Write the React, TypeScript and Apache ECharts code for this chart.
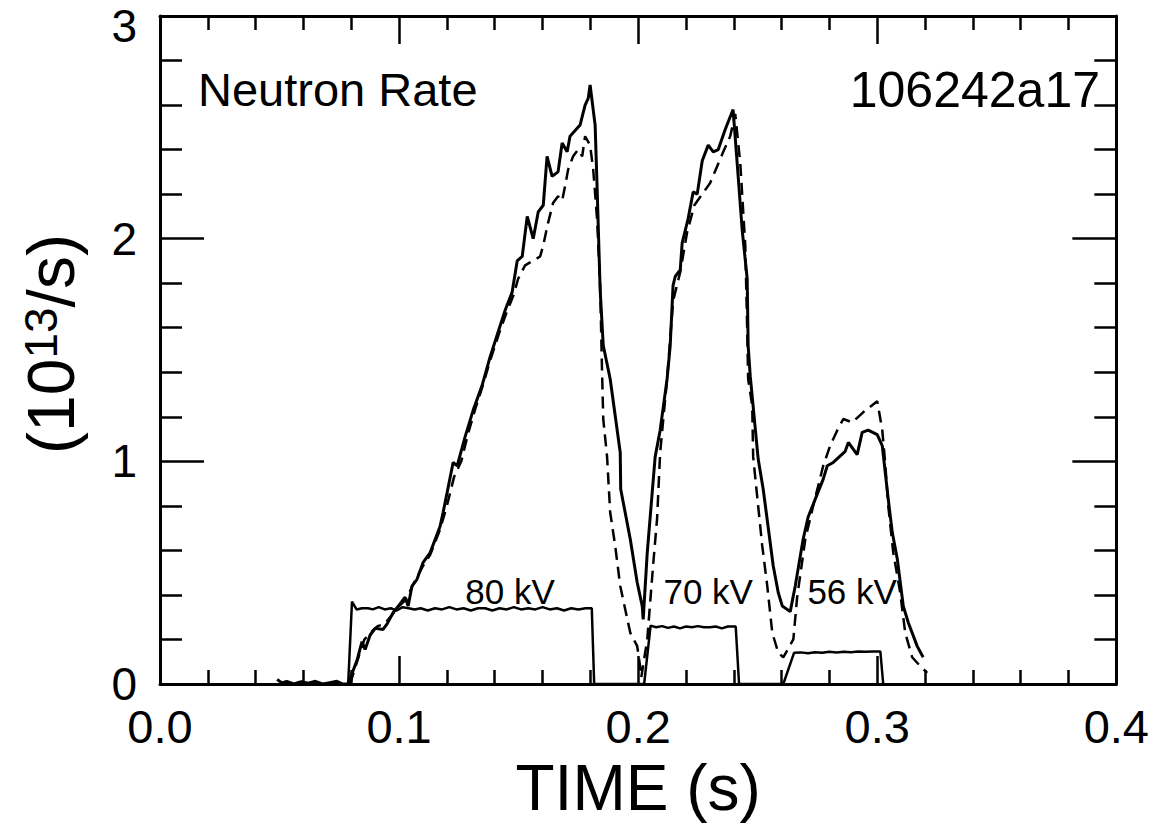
import React, { useEffect, useRef } from "react";
import * as echarts from "echarts";

const FONT = '"Liberation Sans", Arial, Helvetica, sans-serif';

const xTicks = [0, 0.1, 0.2, 0.3, 0.4];
const yTicks = [0, 1, 2, 3];

// measured neutron rate (solid), [time s, 1e13/s]
const measured: [number, number][] = [
  [0.049, 0.02], [0.051, 0.005], [0.053, 0.012], [0.056, 0], [0.059, 0.01], [0.062, 0.004],
  [0.065, 0.012], [0.068, 0], [0.071, 0.006], [0.074, 0.012], [0.0765, 0], [0.0787, 0],
  [0.0825, 0.11], [0.0845, 0.19], [0.0858, 0.155], [0.0879, 0.22], [0.09, 0.25], [0.0933, 0.245],
  [0.095, 0.27], [0.0975, 0.32], [0.1004, 0.36], [0.1025, 0.39], [0.1038, 0.35], [0.1054, 0.44],
  [0.1075, 0.47], [0.11, 0.545], [0.113, 0.59], [0.1172, 0.71], [0.1184, 0.77], [0.1201, 0.86],
  [0.1226, 0.995], [0.1243, 0.98], [0.1276, 1.11], [0.131, 1.23], [0.1347, 1.34], [0.1381, 1.47],
  [0.1423, 1.61], [0.1444, 1.68], [0.1473, 1.76], [0.1494, 1.9], [0.1515, 1.92], [0.1536, 2.1],
  [0.1561, 2.0], [0.1582, 2.12], [0.1603, 2.15], [0.1619, 2.37], [0.164, 2.28], [0.1665, 2.3],
  [0.1682, 2.43], [0.1703, 2.39], [0.1715, 2.46], [0.1757, 2.51], [0.1778, 2.6], [0.1791, 2.63],
  [0.1799, 2.69], [0.182, 2.51], [0.1828, 2.24], [0.1841, 1.77], [0.1854, 1.52], [0.1883, 1.37],
  [0.1925, 1.04], [0.1927, 0.875], [0.1967, 0.65], [0.1996, 0.456], [0.2017, 0.35], [0.2021, 0.29],
  [0.2038, 0.59], [0.2071, 1.02], [0.2092, 1.14], [0.2121, 1.37], [0.2134, 1.52], [0.2146, 1.79],
  [0.2155, 1.83], [0.2176, 1.86], [0.2184, 1.98], [0.2209, 2.09], [0.223, 2.21], [0.2247, 2.2],
  [0.2268, 2.35], [0.2293, 2.42], [0.2314, 2.39], [0.2335, 2.4], [0.2364, 2.49], [0.2397, 2.58],
  [0.2414, 2.34], [0.2435, 2.04], [0.2456, 1.82], [0.246, 1.52], [0.2469, 1.38], [0.2502, 1.01],
  [0.2523, 0.875], [0.2565, 0.53], [0.2586, 0.41], [0.2603, 0.35], [0.2636, 0.325], [0.2657, 0.44],
  [0.269, 0.65], [0.2711, 0.75], [0.2774, 0.92], [0.2791, 0.98], [0.2816, 0.995], [0.2866, 1.045],
  [0.2879, 1.085], [0.2916, 1.03], [0.2937, 1.13], [0.2962, 1.14], [0.3, 1.12], [0.3021, 1.07],
  [0.3046, 0.83], [0.3063, 0.68], [0.3084, 0.56], [0.3109, 0.35], [0.313, 0.275], [0.3167, 0.17],
  [0.3192, 0.12],
];

// simulated neutron rate (dashed)
const simulated: [number, number][] = [
  [0.0795, 0], [0.083, 0.12], [0.0855, 0.2], [0.088, 0.23], [0.091, 0.26], [0.094, 0.27],
  [0.097, 0.31], [0.1, 0.35], [0.103, 0.38], [0.106, 0.45], [0.11, 0.53], [0.113, 0.58],
  [0.117, 0.69], [0.12, 0.8], [0.123, 0.93], [0.126, 1.0], [0.129, 1.13], [0.132, 1.24],
  [0.135, 1.34], [0.138, 1.45], [0.142, 1.58], [0.145, 1.67], [0.148, 1.75], [0.1498, 1.82],
  [0.1527, 1.88], [0.159, 1.92], [0.1603, 1.97], [0.1623, 2.07], [0.1644, 2.16], [0.1665, 2.19],
  [0.1682, 2.17], [0.1695, 2.24], [0.1707, 2.31], [0.1728, 2.37], [0.1749, 2.4], [0.1766, 2.37],
  [0.1778, 2.46], [0.1799, 2.42], [0.1812, 2.31], [0.1828, 2.09], [0.1841, 1.79], [0.1849, 1.4],
  [0.1854, 1.19], [0.187, 1.02], [0.1883, 0.77], [0.1904, 0.62], [0.1925, 0.44], [0.1967, 0.23],
  [0.1996, 0.17], [0.2008, 0.08], [0.2013, 0.03], [0.2038, 0.2], [0.2063, 0.54], [0.2079, 0.74],
  [0.2092, 1.04], [0.2121, 1.37], [0.2146, 1.72], [0.2176, 1.85], [0.2205, 2.03], [0.2235, 2.15],
  [0.2301, 2.25], [0.2356, 2.39], [0.2385, 2.46], [0.2406, 2.56], [0.2427, 2.34], [0.2448, 1.97],
  [0.2456, 1.59], [0.246, 1.37], [0.2477, 1.25], [0.2481, 1.02], [0.2498, 0.84], [0.2519, 0.62],
  [0.254, 0.44], [0.2561, 0.23], [0.2586, 0.14], [0.2607, 0.12], [0.2649, 0.2], [0.2665, 0.39],
  [0.2699, 0.65], [0.2732, 0.8], [0.2774, 0.98], [0.2803, 1.07], [0.2833, 1.14], [0.2858, 1.19],
  [0.2895, 1.175], [0.2941, 1.22], [0.3, 1.27], [0.3021, 1.14], [0.3033, 0.995], [0.3046, 0.8],
  [0.3067, 0.59], [0.3096, 0.41], [0.3117, 0.23], [0.3146, 0.12], [0.318, 0.08], [0.3209, 0.05],
];

// beam power trace (solid, thin steps)
const beam: [number, number][] = [
  [0.0787, 0], [0.0803, 0.37], [0.0822, 0.335], [0.0845, 0.34], [0.087, 0.34], [0.089, 0.335],
  [0.0915, 0.345], [0.094, 0.335], [0.0965, 0.34], [0.099, 0.33], [0.1015, 0.345], [0.104, 0.34],
  [0.1065, 0.335], [0.109, 0.34], [0.112, 0.33], [0.115, 0.34], [0.118, 0.335], [0.121, 0.345],
  [0.124, 0.335], [0.127, 0.34], [0.13, 0.33], [0.133, 0.34], [0.136, 0.34], [0.139, 0.33],
  [0.142, 0.34], [0.145, 0.335], [0.148, 0.345], [0.151, 0.335], [0.154, 0.34], [0.157, 0.335],
  [0.16, 0.345], [0.163, 0.335], [0.166, 0.34], [0.169, 0.33], [0.172, 0.34], [0.175, 0.335],
  [0.178, 0.34], [0.1806, 0.34], [0.1816, 0],
  [0.2025, 0], [0.2052, 0.262], [0.2075, 0.255], [0.21, 0.26], [0.2125, 0.252], [0.215, 0.258],
  [0.2175, 0.25], [0.22, 0.258], [0.2225, 0.255], [0.225, 0.26], [0.2275, 0.255], [0.23, 0.255],
  [0.2325, 0.258], [0.235, 0.25], [0.2375, 0.258], [0.2395, 0.258], [0.2408, 0.258], [0.2422, 0],
  [0.2607, 0], [0.2652, 0.14], [0.268, 0.142], [0.271, 0.138], [0.274, 0.143], [0.277, 0.14],
  [0.28, 0.145], [0.283, 0.142], [0.286, 0.145], [0.289, 0.143], [0.292, 0.146], [0.295, 0.145],
  [0.298, 0.146], [0.3013, 0.146], [0.3025, 0],
];

const beamLabels: [number, number, string][] = [
  [0.1464, 0.416, "80 kV"],
  [0.2293, 0.416, "70 kV"],
  [0.2895, 0.416, "56 kV"],
];

export default function App() {
  const ref = useRef<HTMLDivElement>(null);
  useEffect(() => {
    if (!ref.current) return;
    const chart = echarts.init(ref.current, undefined, { renderer: "svg" });
    const axisLine = { show: true, onZero: false, lineStyle: { color: "#000", width: 3 } };
    const xCommon = {
      type: "value" as const,
      min: xTicks[0],
      max: xTicks[xTicks.length - 1],
      interval: 0.1,
      axisLine,
      splitLine: { show: false },
      axisTick: { show: true, inside: true, length: 28, lineStyle: { color: "#000", width: 2.5 } },
      minorTick: { show: true, splitNumber: 5, length: 14, lineStyle: { color: "#000", width: 2.5 } },
    };
    const yCommon = {
      type: "value" as const,
      min: yTicks[0],
      max: yTicks[yTicks.length - 1],
      interval: 1,
      axisLine,
      splitLine: { show: false },
      axisTick: { show: true, inside: true, length: 44, lineStyle: { color: "#000", width: 2.5 } },
      minorTick: { show: true, splitNumber: 5, length: 22, lineStyle: { color: "#000", width: 2.5 } },
    };
    chart.setOption({
      animation: false,
      backgroundColor: "#fff",
      textStyle: { fontFamily: FONT, color: "#000" },
      grid: { left: 160, top: 16, width: 959, height: 668, containLabel: false },
      xAxis: [
        {
          ...xCommon,
          position: "bottom",
          axisLabel: {
            fontSize: 47, color: "#000", fontFamily: FONT, margin: 19,
            formatter: (v: number) => v.toFixed(1),
          },
          name: "TIME (s)",
          nameLocation: "middle",
          nameGap: 72,
          nameTextStyle: { fontSize: 64, color: "#000", fontFamily: FONT },
        },
        { ...xCommon, position: "top", axisLabel: { show: false } },
      ],
      yAxis: [
        {
          ...yCommon,
          position: "left",
          axisLabel: {
            fontSize: 46, color: "#000", fontFamily: FONT, margin: 23,
            formatter: (v: number) => (v === yTicks[yTicks.length - 1] ? "{top|" + v + "}" : String(v)),
            rich: { top: { fontSize: 46, fontFamily: FONT, color: "#000", padding: [20, 0, 0, 0] } },
          },
          name: "(10{sup|13}/s)",
          nameLocation: "middle",
          nameGap: 76,
          nameRotate: 90,
          nameTextStyle: {
            fontSize: 66, color: "#000", fontFamily: FONT, padding: [0, 0, 0, 12],
            rich: {
              sup: { fontSize: 46, fontFamily: FONT, color: "#000", verticalAlign: "top", padding: [0, 0, 0, 0] },
            },
          },
        },
        { ...yCommon, position: "right", axisLabel: { show: false } },
      ],
      graphic: [
        {
          type: "text", left: 198, top: 66,
          style: { text: "Neutron Rate", fontSize: 47, fontFamily: FONT, fill: "#000" },
        },
        {
          type: "text", right: 52, top: 65,
          style: { text: "106242a17", fontSize: 50, fontFamily: FONT, fill: "#000" },
        },
      ],
      series: [
        {
          type: "line", name: "beam", data: beam, showSymbol: false, symbol: "none",
          lineStyle: { color: "#000", width: 2.5 }, z: 3,
        },
        {
          type: "line", name: "simulated", data: simulated, showSymbol: false, symbol: "none",
          lineStyle: { color: "#000", width: 2.5, type: [12, 7] }, z: 4,
        },
        {
          type: "line", name: "measured", data: measured, showSymbol: false, symbol: "none",
          lineStyle: { color: "#000", width: 3 }, z: 5,
        },
        {
          type: "scatter", name: "labels", symbolSize: 0,
          data: beamLabels.map((d) => ({ value: [d[0], d[1]], name: d[2] })),
          label: {
            show: true, position: "inside", formatter: (p: any) => p.name,
            fontSize: 35, fontFamily: FONT, color: "#000", textBorderWidth: 0, opacity: 1,
          },
          itemStyle: { color: "#000" },
          z: 6,
        },
      ],
    });
    return () => chart.dispose();
  }, []);
  return (
    <div
      ref={ref}
      style={{ position: "absolute", left: 0, top: 0, width: 1152, height: 834, background: "#fff" }}
    />
  );
}
